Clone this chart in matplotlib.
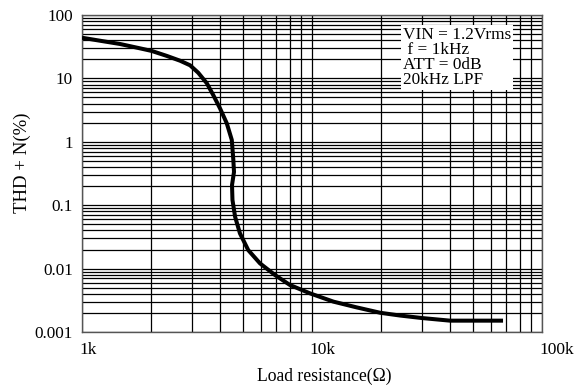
import numpy as np
import matplotlib
matplotlib.use("Agg")
import matplotlib.pyplot as plt
from matplotlib.ticker import FixedLocator, LogLocator, NullFormatter
from matplotlib.transforms import offset_copy

plt.rcParams['font.family'] = ['Liberation Serif', 'DejaVu Serif']

# Load resistance (ohm) and THD+N (%) along the measured curve
load_ohm = [1000, 1197, 1463, 1787, 2010, 2340, 2670, 2950, 3200, 3490,
            3720, 3980, 4260, 4480, 4550, 4580, 4490, 4510, 4630, 4860,
            5280, 5940, 6900, 8020, 9800, 12400, 15600, 19800, 24100,
            30100, 39800, 67700]
thd_pct = [43.8, 39.3, 34.9, 29.8, 27.1, 22.6, 19.0, 16.1, 12.3, 8.37,
           5.47, 3.38, 1.96, 1.07, 0.516, 0.334, 0.208, 0.121, 0.0659,
           0.0360, 0.0196, 0.0121, 0.00793, 0.00551, 0.00407, 0.00301,
           0.00245, 0.00201, 0.00182, 0.00166, 0.00151, 0.00151]

x_ticks = [1e3, 1e4, 1e5]
x_labels = ["1k", "10k", "100k"]
y_ticks = [0.001, 0.01, 0.1, 1, 10, 100]
y_labels = ["0.001", "0.01", "0.1", "1", "10", "100"]
conditions = ["VIN = 1.2Vrms", " f = 1kHz", "ATT = 0dB", "20kHz LPF"]

fig = plt.figure(figsize=(5.79, 3.92), dpi=100)
ax = fig.add_axes([82 / 579, 1 - 332 / 392, 460 / 579, 317 / 392])
ax.set_xscale('log')
ax.set_yscale('log')
ax.set_xlim(1e3, 1e5)
ax.set_ylim(1e-3, 1e2)

ax.xaxis.set_major_locator(FixedLocator(x_ticks))
ax.xaxis.set_minor_locator(LogLocator(base=10, subs=np.arange(2, 10)))
ax.yaxis.set_major_locator(FixedLocator(y_ticks))
ax.yaxis.set_minor_locator(LogLocator(base=10, subs=np.arange(2, 10)))
ax.xaxis.set_minor_formatter(NullFormatter())
ax.yaxis.set_minor_formatter(NullFormatter())
ax.set_xticklabels([])
ax.set_yticklabels(y_labels, fontsize=12.3)
ax.tick_params(which='both', length=0)
ax.tick_params(axis='y', pad=6.5)

# x tick labels sit just right of their gridline
for xv, lab in zip(x_ticks, x_labels):
    tr = offset_copy(ax.get_xaxis_transform(), fig=fig, x=-3, y=-10, units='dots')
    ax.text(xv, 0, lab, transform=tr, ha='left', va='top', fontsize=12.5)

ax.grid(which='both', color='black', linewidth=0.9)
for s in ax.spines.values():
    s.set_color('#555555')
    s.set_linewidth(1.0)

ax.plot(load_ohm, thd_pct, color='black', linewidth=2.9,
        solid_joinstyle='round', solid_capstyle='butt', zorder=5)

ax.text(0.697, 0.962, "\n".join(conditions), transform=ax.transAxes,
        ha='left', va='top', fontsize=12.4, linespacing=0.92,
        bbox=dict(facecolor='white', edgecolor='none', pad=1.2), zorder=6)

fig.text(324.5 / 579, 1 - 376 / 392, "Load resistance(\u03a9)", ha='center',
         va='center', fontsize=12.7)
fig.text(22.5 / 579, 1 - 163 / 392, "THD + N(%)", ha='center', va='center',
         rotation=90, fontsize=13.5)

fig.savefig("out.png", dpi=100, facecolor='white')
